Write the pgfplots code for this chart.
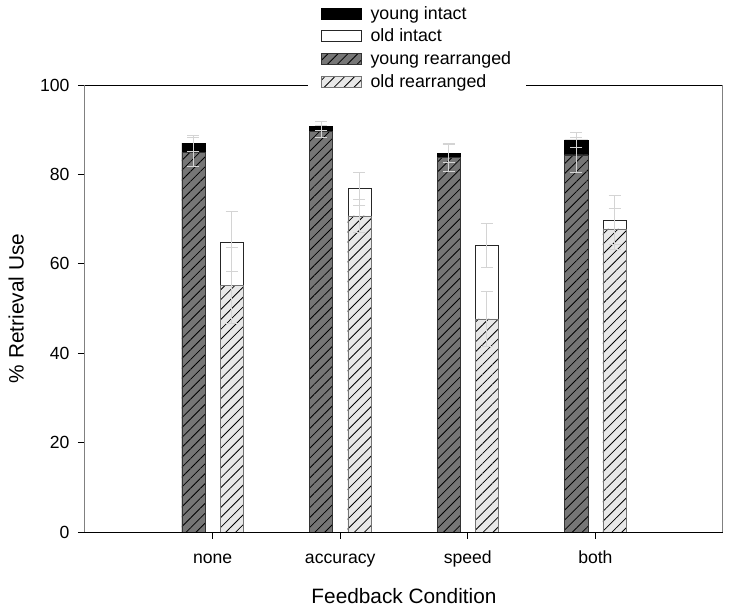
\documentclass[border=0pt]{standalone}
\usepackage{fontspec}
\setmainfont{Liberation Sans}
\usepackage{pgfplots}
\pgfplotsset{compat=1.18}
\usetikzlibrary{patterns.meta}
\definecolor{darkhatch}{RGB}{118,118,118}
\definecolor{lighthatch}{RGB}{232,232,232}
\definecolor{errgray}{RGB}{212,212,212}
\begin{document}
\begin{tikzpicture}
\begin{axis}[
  at={(0pt,0pt)}, anchor=south west,
  scale only axis, width=638pt, height=447pt,
  xmin=0, xmax=5, ymin=0, ymax=100,
  xtick={1,2,3,4}, xticklabels={none,accuracy,speed,both},
  ytick={0,20,...,100},
  tick align=outside, major tick length=7pt,
  xtick pos=bottom, ytick pos=left,
  tick style={black, line width=0.8pt},
  /pgf/number format/assume math mode=true,
  tick label style={font=\fontsize{17.6}{20}\selectfont},
  xticklabel style={text height=12.6pt, text depth=3.7pt, yshift=-8pt},
  yticklabel style={xshift=-5pt},
  xlabel={Feedback Condition}, ylabel={\% Retrieval Use},
  label style={font=\fontsize{20.8}{24}\selectfont},
  xlabel style={at={(axis description cs:0.5,0)}, anchor=center, yshift=-64pt},
  ylabel style={at={(axis description cs:-0.0956,0.5)}, anchor=south, inner sep=0pt},
  separate axis lines,
  x axis line style={black, line width=0.9pt},
  y axis line style={gray, line width=1pt},
  legend cell align=left,
  legend style={at={(0.3495,1.1855)}, anchor=north west, draw=none, fill=white,
    font=\fontsize{17.8}{21}\selectfont, inner xsep=13pt, inner ysep=2pt, row sep=4.3pt,
    /tikz/every odd column/.append style={column sep=7pt}},
  legend image code/.code={\draw[#1] (0pt,-5.5pt) rectangle (40pt,5.5pt);},
]
% young intact
\addplot[ybar, bar shift=0pt, bar width=0.182, fill=black, draw=black]
  coordinates {(0.85,87.0) (1.85,90.8) (2.85,84.7) (3.85,87.7)};
% old intact
\addplot[ybar, bar shift=0pt, bar width=0.182, fill=white, draw=black!85]
  coordinates {(1.15,64.9) (2.15,76.8) (3.15,64.1) (4.15,69.8)};
% young rearranged
\addplot[ybar, bar shift=0pt, bar width=0.182, fill=darkhatch, draw=black!80,
  postaction={pattern={Lines[angle=45,distance=7pt,line width=0.8pt]}, pattern color=black}]
  coordinates {(0.85,85.0) (1.85,89.6) (2.85,83.8) (3.85,84.4)};
% old rearranged
\addplot[ybar, bar shift=0pt, bar width=0.182, fill=lighthatch, draw=black!55,
  postaction={pattern={Lines[angle=45,distance=7pt,line width=0.8pt]}, pattern color=black}]
  coordinates {(1.15,55.1) (2.15,70.7) (3.15,47.7) (4.15,67.8)};
\legend{young intact, old intact, young rearranged, old rearranged}
% error bars
\pgfplotsset{errstyle/.style={forget plot, draw=none, mark=none,
  error bars/.cd, y dir=both, y explicit,
  error bar style={draw=errgray, line width=0.9pt},
  error mark options={rotate=90, mark size=6pt, draw=errgray, line width=0.9pt}}}
\addplot[errstyle] coordinates {(0.85,87.0) +- (0,1.8) (1.85,90.8) +- (0,1.0) (2.85,84.7) +- (0,2.0) (3.85,87.7) +- (0,1.6)};
\addplot[errstyle] coordinates {(0.85,85.0) +- (0,3.3) (1.85,89.6) +- (0,1.4) (2.85,83.8) +- (0,3.1) (3.85,84.4) +- (0,3.9)};
\addplot[errstyle] coordinates {(1.15,64.9) +- (0,6.7) (2.15,76.8) +- (0,3.7) (3.15,64.1) +- (0,4.85) (4.15,69.8) +- (0,5.5)};
\addplot[errstyle] coordinates {(1.15,55.1) +- (0,8.5) (2.15,70.7) +- (0,3.6) (3.15,47.7) +- (0,6.2) (4.15,67.8) +- (0,4.6)};
\end{axis}
\pgfresetboundingbox
\path (-85pt,-77.5pt) rectangle (644pt,532pt);
\end{tikzpicture}
\end{document}
